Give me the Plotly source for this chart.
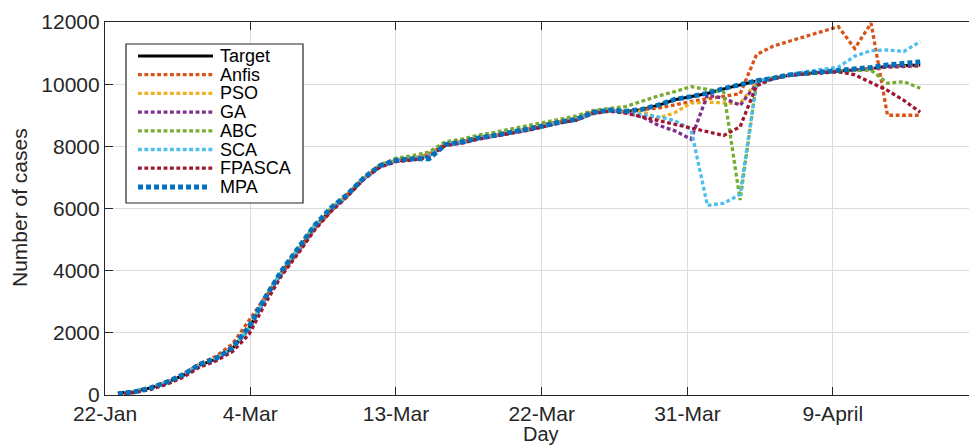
import plotly.graph_objects as go

# ---------------- data ----------------
day_index = list(range(50))
tick_positions = [-0.794, 8.08, 16.98, 25.88, 34.78, 43.66]
tick_labels = ["22-Jan", "4-Mar", "13-Mar", "22-Mar", "31-Mar", "9-April"]

target = [60, 120, 230, 400, 640, 965, 1150, 1500, 2150, 3100, 3950, 4650, 5400, 5950, 6400,
          6950, 7350, 7530, 7580, 7700, 8050, 8120, 8250, 8340, 8440, 8530, 8650, 8770, 8850,
          9080, 9160, 9120, 9180, 9320, 9500, 9590, 9700, 9850, 9970, 10100, 10180, 10290,
          10340, 10380, 10400, 10440, 10500, 10580, 10600, 10620]
anfis = [40, 110, 250, 420, 680, 1000, 1250, 1650, 2400, 3150, 3900, 4600, 5350, 5900, 6450,
         6950, 7400, 7550, 7600, 7750, 8080, 8150, 8280, 8360, 8470, 8560, 8700, 8800, 8900,
         9100, 9180, 9100, 9180, 9230, 9340, 9440, 9530, 9600, 9690, 10950, 11220, 11380,
         11540, 11700, 11850, 11150, 11960, 9000, 9000, 9000]
pso = [50, 115, 235, 410, 650, 970, 1160, 1520, 2150, 3100, 3960, 4660, 5400, 5960, 6420,
       6960, 7360, 7540, 7600, 7720, 8060, 8130, 8260, 8350, 8450, 8540, 8660, 8780, 8870,
       9080, 9150, 9110, 9130, 8900, 9080, 9390, 9420, 9400, 9370, 10080, 10190, 10290,
       10340, 10380, 10400, 10440, 10490, 10550, 10580, 10590]
ga = [50, 110, 225, 395, 630, 950, 1140, 1490, 2100, 3080, 3930, 4630, 5380, 5930, 6400,
      6950, 7340, 7520, 7580, 7700, 8040, 8110, 8240, 8330, 8430, 8520, 8640, 8760, 8850,
      9060, 9140, 9100, 8950, 8680, 8500, 8230, 9650, 9550, 9320, 10000, 10180, 10290,
      10340, 10380, 10400, 10440, 10490, 10550, 10580, 10590]
abc = [40, 100, 200, 370, 600, 930, 1130, 1480, 2120, 3150, 3980, 4700, 5450, 6000, 6450,
       7000, 7400, 7620, 7700, 7820, 8150, 8230, 8360, 8450, 8560, 8650, 8780, 8880, 8980,
       9150, 9220, 9280, 9450, 9620, 9760, 9920, 9830, 9750, 6270, 10050, 10200, 10290,
       10340, 10380, 10400, 10440, 10450, 10030, 10080, 9870]
sca = [50, 110, 230, 400, 640, 960, 1150, 1500, 2130, 3100, 3950, 4650, 5400, 5950, 6400,
       6950, 7350, 7530, 7590, 7700, 8050, 8120, 8250, 8340, 8440, 8530, 8650, 8770, 8860,
       9070, 9150, 9100, 9020, 8950, 8830, 8550, 6100, 6170, 6450, 10050, 10230, 10300,
       10400, 10470, 10550, 10900, 11080, 11100, 11050, 11370]
fpasca = [30, 80, 180, 350, 580, 900, 1100, 1400, 1950, 2950, 3850, 4550, 5300, 5900, 6380,
          6930, 7330, 7510, 7560, 7650, 8030, 8100, 8230, 8320, 8420, 8510, 8630, 8750, 8840,
          9050, 9130, 9070, 8950, 8830, 8720, 8600, 8470, 8350, 8630, 9950, 10170, 10280,
          10330, 10370, 10400, 10300, 10050, 9800, 9480, 9100]
mpa = [40, 100, 230, 420, 660, 990, 1180, 1530, 2200, 3150, 4000, 4720, 5450, 6020, 6450,
       6980, 7380, 7560, 7600, 7600, 8060, 8140, 8270, 8350, 8450, 8540, 8660, 8780, 8870,
       9090, 9170, 9130, 9190, 9330, 9510, 9600, 9710, 9860, 9980, 10110, 10190, 10300,
       10350, 10400, 10430, 10480, 10540, 10620, 10680, 10720]

series_names = ["Target", "Anfis", "PSO", "GA", "ABC", "SCA", "FPASCA", "MPA"]
series_values = [target, anfis, pso, ga, abc, sca, fpasca, mpa]
series_colors = ["#000000", "#D95319", "#EDB120", "#7E2F8E", "#77AC30", "#4DBEEE", "#A2142F", "#0072BD"]
series_widths = [3, 3.3, 3.3, 3.3, 3.3, 3.3, 3.3, 4.8]
series_dash = ["solid", "3.8px,2.6px", "3.8px,2.6px", "3.8px,2.6px", "3.8px,2.6px",
               "3.8px,2.6px", "3.8px,2.6px", "5px,3px"]

# ---------------- figure ----------------
W, H = 969, 446
ML, MR, MT, MB = 105, 0, 22, 51
PW, PH = W - ML - MR, H - MT - MB

fig = go.Figure()
for name, vals, col, wd, ds in zip(series_names, series_values, series_colors, series_widths, series_dash):
    fig.add_trace(go.Scatter(x=day_index, y=vals, mode="lines", name=name,
                             line=dict(color=col, width=wd, dash=ds), showlegend=False))

axis_col = "#262626"
fig.update_layout(
    width=W, height=H, autosize=False,
    margin=dict(l=ML, r=MR, t=MT, b=MB, pad=0),
    paper_bgcolor="white", plot_bgcolor="white",
    font=dict(family="Liberation Sans, Arial, sans-serif", size=21, color=axis_col),
    xaxis=dict(range=[-0.794, 51.98], tickmode="array", tickvals=tick_positions, ticktext=tick_labels,
               showline=True, linecolor=axis_col, linewidth=1.2, mirror="ticks",
               ticks="inside", ticklen=8, tickcolor=axis_col, tickwidth=1.2,
               showgrid=True, gridcolor="#dcdcdc", gridwidth=1, zeroline=False,
               tickfont=dict(size=21, color=axis_col)),
    yaxis=dict(range=[0, 12000], tickmode="array", tickvals=[0, 2000, 4000, 6000, 8000, 10000, 12000],
               ticktext=["0", "2000", "4000", "6000", "8000", "10000", "12000"],
               showline=True, linecolor=axis_col, linewidth=1.2, mirror=False,
               ticks="inside", ticklen=8, tickcolor=axis_col, tickwidth=1.2,
               showgrid=True, gridcolor="#dcdcdc", gridwidth=1, zeroline=False,
               tickfont=dict(size=21, color=axis_col)),
)

def px_x(p):
    return (p - ML) / PW

def px_y(p):
    return (H - MB - p) / PH

# axis titles
fig.add_annotation(text="Number of cases", xref="paper", yref="paper", x=px_x(19.5), y=px_y(207.5),
                   xanchor="center", yanchor="middle", textangle=-90, showarrow=False,
                   font=dict(size=21, color=axis_col))
fig.add_annotation(text="Day", xref="paper", yref="paper", x=px_x(541), y=px_y(434),
                   xanchor="center", yanchor="middle", showarrow=False,
                   font=dict(size=20, color=axis_col))

# legend (drawn manually for MATLAB-style long samples)
fig.add_shape(type="rect", xref="paper", yref="paper", x0=px_x(126), x1=px_x(303),
              y0=px_y(203), y1=px_y(44), line=dict(color=axis_col, width=1.2), fillcolor="white",
              layer="above")
row_y = [56, 74.7, 93.4, 112.1, 130.8, 149.5, 168.2, 187]
for i, (name, col, wd, ds) in enumerate(zip(series_names, series_colors, series_widths, series_dash)):
    x1 = 208 if name == "MPA" else 213
    fig.add_shape(type="line", xref="paper", yref="paper", x0=px_x(138), x1=px_x(x1),
                  y0=px_y(row_y[i]), y1=px_y(row_y[i]),
                  line=dict(color=col, width=wd, dash=ds), layer="above")
    fig.add_annotation(text=name, xref="paper", yref="paper", x=px_x(218), y=px_y(row_y[i]),
                       xanchor="left", yanchor="middle", showarrow=False,
                       font=dict(size=18, color="#000000"))

fig.write_html("out.html")
